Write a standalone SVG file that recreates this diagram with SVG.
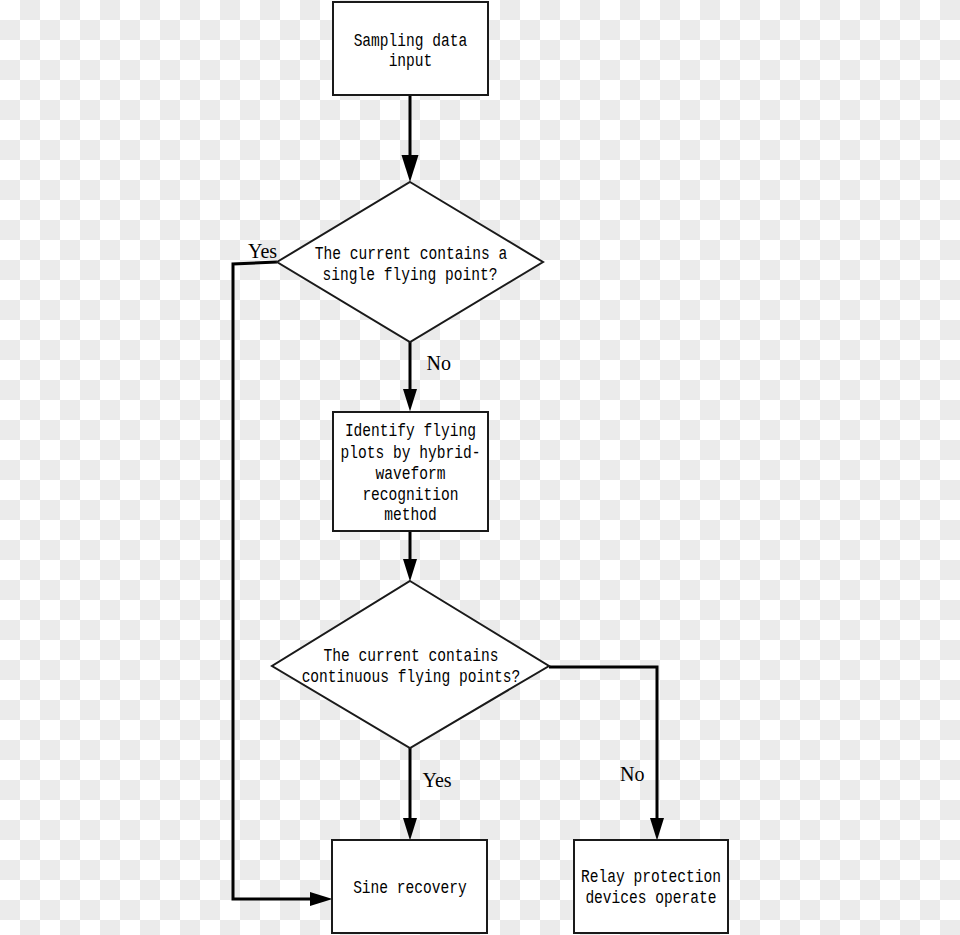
<svg xmlns="http://www.w3.org/2000/svg" width="960" height="935" viewBox="0 0 960 935">
<style>
.shape{fill:#fff;stroke:#1a1a1a;stroke-width:2}
.t{font-family:"Liberation Mono","DejaVu Sans Mono",monospace;font-size:18px;fill:#000;text-anchor:middle}
.lbl{font-family:"Liberation Serif","DejaVu Serif",serif;font-size:20px;fill:#000}
.conn{fill:none;stroke:#000;stroke-width:3}
</style>
<defs>
<pattern id="checker" width="40" height="40" patternUnits="userSpaceOnUse">
<rect width="40" height="40" fill="#fff"/>
<rect x="20" y="0" width="20" height="20" fill="#ebebeb"/>
<rect x="0" y="20" width="20" height="20" fill="#ebebeb"/>
</pattern>
<marker id="arr" markerUnits="userSpaceOnUse" markerWidth="23" markerHeight="16" viewBox="0 0 23 16" refX="0" refY="8" orient="auto">
<path d="M0,1 L22.5,8 L0,15 z" fill="#000"/>
</marker>
<marker id="arrBig" markerUnits="userSpaceOnUse" markerWidth="28" markerHeight="18" viewBox="0 0 28 18" refX="0" refY="9" orient="auto">
<path d="M0,0.5 L27,9 L0,17.5 z" fill="#000"/>
</marker>
</defs>
<rect width="960" height="935" fill="url(#checker)"/>

<g id="connectors">
<path class="conn" d="M410,95 L410,155" stroke-width="4" marker-end="url(#arrBig)"/>
<path class="conn" d="M277,262 L233,264 L233,899 L310,899" marker-end="url(#arr)"/>
<path class="conn" d="M410,342 L410,389" marker-end="url(#arr)"/>
<path class="conn" d="M410,531 L410,559" marker-end="url(#arr)"/>
<path class="conn" d="M410,748 L410,818" marker-end="url(#arr)"/>
<path class="conn" d="M549,667 L657,667 L657,818" marker-end="url(#arr)"/>
<text class="lbl" x="248" y="258" font-size="21">Yes</text>
<text class="lbl" x="426.5" y="369.5">No</text>
<text class="lbl" x="422.5" y="786.5">Yes</text>
<text class="lbl" x="620" y="780.5">No</text>
</g>

<g id="n-input">
<rect class="shape" x="333" y="2" width="155" height="93"/>
<text class="t" x="410.5" y="46" textLength="113.75" lengthAdjust="spacingAndGlyphs">Sampling data</text>
<text class="t" x="410.5" y="66" textLength="43.75" lengthAdjust="spacingAndGlyphs">input</text>
</g>

<g id="n-single">
<polygon class="shape" points="410,182 543,262 410,342 277,262"/>
<text class="t" x="411" y="258.5" textLength="192.5" lengthAdjust="spacingAndGlyphs">The current contains a</text>
<text class="t" x="410" y="279.5" textLength="175" lengthAdjust="spacingAndGlyphs">single flying point?</text>
</g>

<g id="n-identify">
<rect class="shape" x="333" y="412" width="155" height="119"/>
<text class="t" x="410.5" y="436" textLength="131.25" lengthAdjust="spacingAndGlyphs">Identify flying</text>
<text class="t" x="410.5" y="457.5" textLength="140" lengthAdjust="spacingAndGlyphs">plots by hybrid-</text>
<text class="t" x="410.5" y="479" textLength="70" lengthAdjust="spacingAndGlyphs">waveform</text>
<text class="t" x="410.5" y="500" textLength="96.25" lengthAdjust="spacingAndGlyphs">recognition</text>
<text class="t" x="410.5" y="520" textLength="52.5" lengthAdjust="spacingAndGlyphs">method</text>
</g>

<g id="n-continuous">
<polygon class="shape" points="410,581 549,666 410,748 272,666"/>
<text class="t" x="411" y="661" textLength="175" lengthAdjust="spacingAndGlyphs">The current contains</text>
<text class="t" x="411" y="682" textLength="218.75" lengthAdjust="spacingAndGlyphs">continuous flying points?</text>
</g>

<g id="n-sine">
<rect class="shape" x="332" y="840" width="155" height="93"/>
<text class="t" x="410" y="893" textLength="113.75" lengthAdjust="spacingAndGlyphs">Sine recovery</text>
</g>

<g id="n-relay">
<rect class="shape" x="574" y="840" width="154" height="93"/>
<text class="t" x="651" y="882" textLength="140" lengthAdjust="spacingAndGlyphs">Relay protection</text>
<text class="t" x="651" y="903" textLength="131.25" lengthAdjust="spacingAndGlyphs">devices operate</text>
</g>
</svg>
